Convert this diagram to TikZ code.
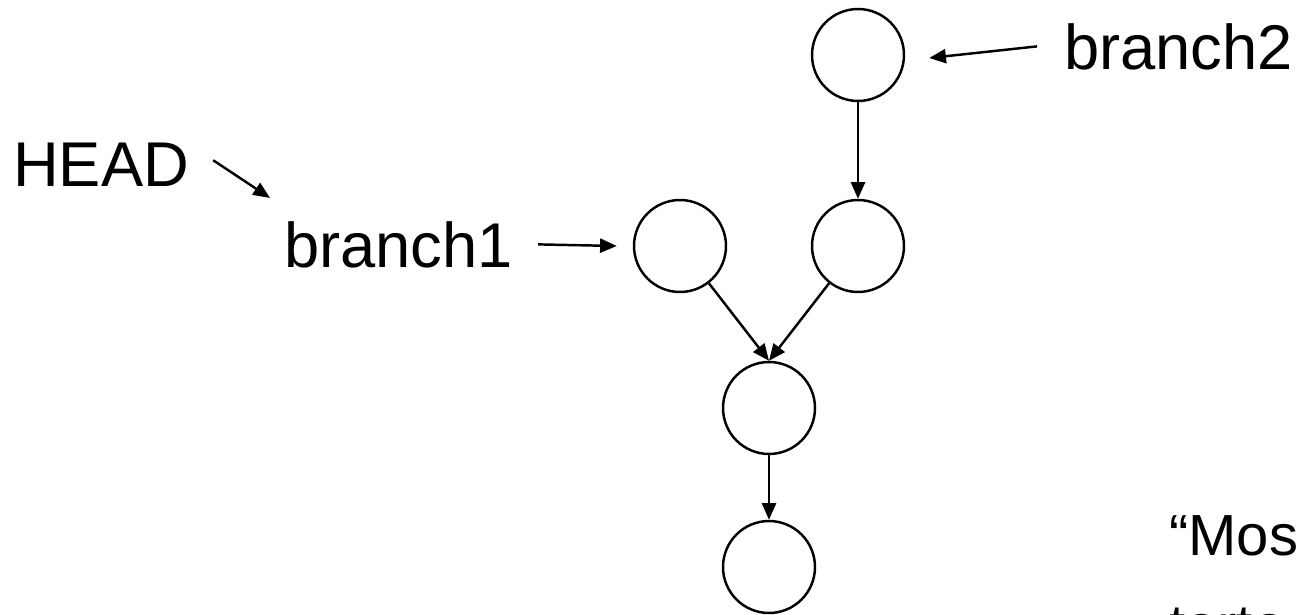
\documentclass[tikz,border=0pt]{standalone}
\usepackage{fontspec}
\setmainfont{Liberation Sans}
\usetikzlibrary{arrows.meta}
\tikzset{
    commit/.style={draw, circle, minimum size=1.84cm, inner sep=0pt},
    reflabel/.style={anchor=base west, inner sep=0pt, font=\fontsize{36}{43}\selectfont},
    quotetext/.style={anchor=base west, inner sep=0pt, font=\fontsize{33}{40}\selectfont}
}
\begin{document}
\begin{tikzpicture}[x=0.02cm, y=-0.02cm, line width=1.4pt, >={Triangle[length=9.5pt, width=8pt]}]
        \useasboundingbox (0,0) rectangle (1302,615);
        % commits
        \node[commit] (c5) at (858,55) {};
        \node[commit] (c4) at (858,246) {};
        \node[commit] (c3) at (680,246) {};
        \node[commit] (c2) at (769,408) {};
        \node[commit] (c1) at (769,567) {};
        \draw[->] (c5) -- (c4);
        \draw[->] (c3) -- (c2.north);
        \draw[->] (c4) -- (c2.north);
        \draw[->] (c2) -- (c1);
        % refs
        \node[reflabel] (head) at (12,187) {HEAD};
        \node[reflabel] (b1) at (283,267) {branch1};
        \node[reflabel] (b2) at (1063,70) {branch2};
        \draw[->] ([shift={(23,-5)}]head.east) -- ([shift={(-13,-22)}]b1.north west);
        \draw[->] ([shift={(24,0)}]b1.east) -- ([shift={(-16,0)}]c3.west);
        \draw[->] ([shift={(-26,-1)}]b2.west) -- ([shift={(24,3)}]c5.east);
        % quote, cut off by the page
        \node[quotetext] (q1) at (1168,555) {“Mos};
        \node[quotetext] (q2) at (1168,645) {torto};
    \end{tikzpicture}
\end{document}
